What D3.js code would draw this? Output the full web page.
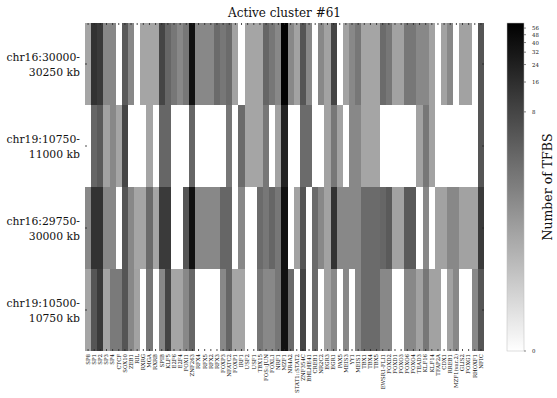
<!DOCTYPE html>
<html>
<head>
<meta charset="utf-8">
<script src="https://cdn.jsdelivr.net/npm/d3@7"></script>
<style>
  body { margin: 0; background: #fff; }
  svg { display: block; font-family: "DejaVu Serif", serif; }
</style>
</head>
<body>
<svg id="chart" width="557" height="398"></svg>
<script>
// Transcription factors (columns)
const factors = [
  "SP8", "SP1", "SP2", "SP3", "SP4", "CTCF", "SOX10", "ZEB1", "RIL", "RXRG",
  "MGA", "RXRB", "SPIB", "KLF5", "E2F6", "E2F4", "FOXI1", "ZNF263", "RFX4", "RFX5",
  "RFX2", "RFX3", "FOXP3", "NFATC2", "FOXP1", "IRF1", "USF2", "USF1", "TBX15", "FOS::JUN",
  "FOXL1", "NRF1", "MZF1", "NR4A2", "STAT1::STAT2", "ZNF354C", "BHLHE41", "CREB1", "NR2C2", "EGR3",
  "EGR1", "PAX5", "MEIS3", "YY1", "MEIS1", "TBX1", "TBX4", "TBX5", "EWSR1-FLI1", "FOXD2",
  "FOXD1", "FOXO3", "FOXO6", "FOXO4", "TEAD3", "KLF16", "KLF14", "TFAP2A", "CDX1", "RREB1",
  "MZF1(var.2)", "GLIS2", "FOXG1", "RHOXF1", "NFIC"
];

// Genomic regions (rows), each label split over two lines
const regions = [
  ["chr16:30000-", "30250 kb"],
  ["chr19:10750-", "11000 kb"],
  ["chr16:29750-", "30000 kb"],
  ["chr19:10500-", "10750 kb"]
];

// Number of TFBS per factor, one array per region
const tfbsChr16a = [0.45,14,11,1.1,1.1,0,4.3,1.1,0,0.45, 0.45,0.45,8,3,1.8,1.1,1.8,38,1.1,1.1,
  1.1,2.6,1.8,2.6,0.5,0,0.45,0.45,0.45,3, 1.8,1.1,60,1.1,0.5,5,1.1,0,1.1,0.5,
  8,0,0.5,1.1,1.8,0.45,0.45,0.45,2.6,1.8, 0.5,0.5,1.8,1.8,1.1,1.1,0.5,0,0.5,1.1,
  0,0.5,0.5,0,5];
const tfbsChr19a = [0,3,4.3,0.5,1.1,0.45,8,0,0,0, 0.45,0,3,3,0,0,0,3,0,0,
  0,0,0,1.8,0,2.6,0.45,0.45,0.45,1.8, 0,0.5,23,0,0,2.6,2.6,0,0,0.5,
  1.8,0.5,0,1.1,1.1,0.45,0.45,0.45,0,0, 0,0,0,0,0.5,1.8,0.5,0,0,0,
  0,0,0,0,5];
const tfbsChr16b = [1.1,14,14,1.1,1.1,0,5,1.1,0.45,0.45, 2.6,0.45,11,11,0,0,5,38,1.1,1.1,
  1.1,1.1,3,3,0,1.1,0,0,2.6,1.8, 3,1.8,38,0,0.5,5,0,2.6,1.1,0.5,
  14,1.1,1.1,1.1,1.1,2.6,2.6,2.6,3,4.3, 0.5,0.5,4.3,4.3,0,1.1,0,0.5,0.5,1.1,
  1.1,0.5,0.5,0.5,11];
const tfbsChr19b = [0.45,5,11,0.45,1.65,1.65,5,1.1,0.5,0, 1.8,0,1.1,8,0.45,0.45,1.1,3,0,0,
  0,0,1.1,3,0.45,0.45,0,0,1.8,1.1, 1.1,1.8,38,2.6,0,8,0,2.6,0,0.5,
  1.1,0,1.1,0,1.1,2.6,2.6,2.6,1.1,1.1, 0,0,1.1,1.1,0.5,1.8,0.5,0.5,0,0.5,
  1.1,0,0,1.1,5];
const rowValues = [tfbsChr16a, tfbsChr19a, tfbsChr16b, tfbsChr19b];

// Colour bar ticks
const colorTicks = [0, 8, 16, 24, 32, 40, 48, 56];
const vMin = 0.031, vMax = 63;

const titleText = "Active cluster #61";
const colorbarLabel = "Number of TFBS";

const svg = d3.select("#chart");
const plotLeft = 85, plotRight = 484, plotTop = 23, plotBottom = 351;

const x = d3.scaleBand().domain(factors).range([plotLeft, plotRight]).paddingInner(0).paddingOuter(0);
const y = d3.scaleBand().domain(d3.range(regions.length)).range([plotTop, plotBottom]);

// Logarithmic norm, grey ramp from white (low) to black (high); zero stays white
const norm = d3.scaleLog().domain([vMin, vMax]).range([0, 1]).clamp(true);
const grey = d3.interpolateRgb("#ffffff", "#000000");
const colour = v => v <= 0 ? "#ffffff" : grey(norm(v));

const cells = [];
rowValues.forEach((vals, r) => vals.forEach((v, c) => cells.push({ r, c, v })));

svg.append("g").selectAll("rect").data(cells).join("rect")
  .attr("x", d => x(factors[d.c]))
  .attr("y", d => y(d.r))
  .attr("width", x.bandwidth() + 0.3)
  .attr("height", y.bandwidth() + 0.3)
  .attr("fill", d => colour(d.v))
  .attr("shape-rendering", "crispEdges");

// Tick marks on all four sides (pointing inwards)
const tickLen = 2;
const tg = svg.append("g").attr("stroke", "#222").attr("stroke-width", 0.8);
factors.forEach(f => {
  const cx = x(f) + x.bandwidth() / 2;
  tg.append("line").attr("x1", cx).attr("x2", cx).attr("y1", plotTop).attr("y2", plotTop + tickLen);
  tg.append("line").attr("x1", cx).attr("x2", cx).attr("y1", plotBottom).attr("y2", plotBottom - tickLen);
});
regions.forEach((_, i) => {
  const cy = y(i) + y.bandwidth() / 2;
  tg.append("line").attr("x1", plotLeft).attr("x2", plotLeft + tickLen).attr("y1", cy).attr("y2", cy);
  tg.append("line").attr("x1", plotRight).attr("x2", plotRight - tickLen).attr("y1", cy).attr("y2", cy);
});

// Factor labels, rotated
svg.append("g").selectAll("text").data(factors).join("text")
  .attr("transform", f => `translate(${x(f) + x.bandwidth() / 2 + 1.8},${plotBottom + 3}) rotate(-90)`)
  .attr("text-anchor", "end")
  .attr("font-size", 5.4)
  .attr("fill", "#111")
  .text(f => f);

// Region labels
const rl = svg.append("g").selectAll("text").data(regions).join("text")
  .attr("text-anchor", "end")
  .attr("font-size", 10.8)
  .attr("fill", "#111");
rl.each(function (lines, i) {
  const cy = y(i) + y.bandwidth() / 2;
  const t = d3.select(this);
  t.append("tspan").attr("x", 80).attr("y", cy - 3.5).text(lines[0]);
  t.append("tspan").attr("x", 80).attr("y", cy + 11.5).text(lines[1]);
});

// Title
svg.append("text")
  .attr("x", (plotLeft + plotRight) / 2)
  .attr("y", 17)
  .attr("text-anchor", "middle")
  .attr("font-size", 12)
  .attr("fill", "#111")
  .text(titleText);

// Colour bar
const cbX = 507, cbW = 17;
const cbScale = d3.scaleLog().domain([vMin, vMax]).range([plotBottom, plotTop]);
const defs = svg.append("defs");
const grad = defs.append("linearGradient").attr("id", "cbGrad")
  .attr("x1", 0).attr("y1", 1).attr("x2", 0).attr("y2", 0);
d3.range(0, 1.0001, 0.05).forEach(p => {
  const v = vMin * Math.pow(vMax / vMin, p);
  grad.append("stop").attr("offset", p).attr("stop-color", colour(v));
});
svg.append("rect")
  .attr("x", cbX).attr("y", plotTop)
  .attr("width", cbW).attr("height", plotBottom - plotTop)
  .attr("fill", "url(#cbGrad)")
  .attr("stroke", "#bbb").attr("stroke-width", 0.5);

const cbTicks = svg.append("g");
colorTicks.forEach(t => {
  const ty = cbScale(Math.max(t, vMin));
  cbTicks.append("line")
    .attr("x1", cbX + cbW).attr("x2", cbX + cbW + 2)
    .attr("y1", ty).attr("y2", ty)
    .attr("stroke", "#333").attr("stroke-width", 0.6);
  cbTicks.append("text")
    .attr("x", cbX + cbW + 8).attr("y", ty + 2)
    .attr("font-size", 5.4).attr("fill", "#111")
    .text(t);
});

svg.append("text")
  .attr("transform", `translate(552,${(plotTop + plotBottom) / 2}) rotate(-90)`)
  .attr("text-anchor", "middle")
  .attr("font-size", 12.5)
  .attr("fill", "#111")
  .text(colorbarLabel);
</script>
</body>
</html>
